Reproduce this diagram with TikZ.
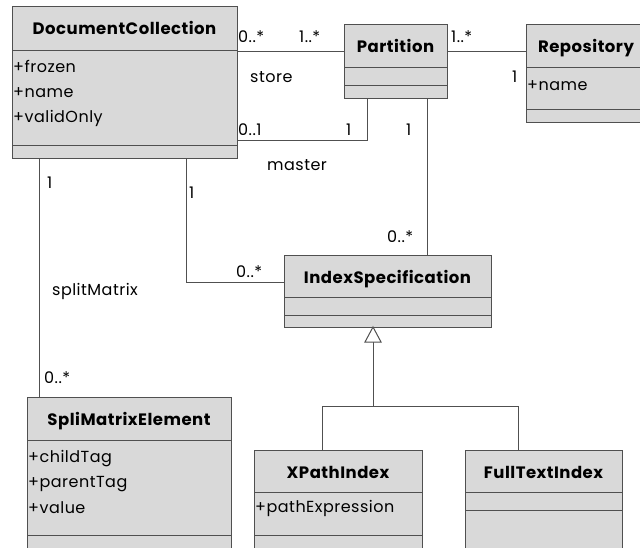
\documentclass[tikz,border=0pt]{standalone}
\usepackage{fontspec}
\setmainfont{Poppins}
\definecolor{boxfill}{HTML}{D9D9D9}
\definecolor{edge}{HTML}{505050}

% one class box: name, left, top, width, height, title
\newcommand{\classbox}[6]{%
  \node[box, minimum width=#4pt, minimum height=#5pt] (#1) at (#2,#3) {};
  \node[ctitle] (#1-title) at ([yshift=-28pt]#1.north) {#6};
}
% horizontal compartment line at a depth below the top of a box
\newcommand{\compline}[2]{%
  \draw[wire] ([yshift=-#2pt]#1.north west) -- ([yshift=-#2pt]#1.north east);
}

\begin{document}
\begin{tikzpicture}[x=1pt,y=-1pt,
  box/.style={draw=edge, fill=boxfill, line width=1pt, inner sep=0pt,
              outer sep=0pt, anchor=north west},
  wire/.style={draw=edge, line width=1pt},
  ctitle/.style={font=\fontsize{16.5}{18}\selectfont\bfseries\addfontfeature{LetterSpace=3},
                 inner sep=0pt, anchor=base},
  attr/.style={font=\fontsize{16}{18}\selectfont\addfontfeature{LetterSpace=3},
               inner sep=0pt, anchor=base west},
  mult/.style={font=\fontsize{16}{18}\selectfont\addfontfeature{LetterSpace=3},
               inner sep=0pt, anchor=base west},
]
\useasboundingbox (0,0) rectangle (640,547);
\clip (0,0) rectangle (640,547);

% ---------- classes ----------
\classbox{dc}{12}{6}{225}{152}{DocumentCollection}
\compline{dc}{44}\compline{dc}{139}
\node[attr] (dc-a1) at ([xshift=1pt,yshift=-66pt]dc.north west) {+frozen};
\node[attr] (dc-a2) at ([xshift=1pt,yshift=-91pt]dc.north west) {+name};
\node[attr] (dc-a3) at ([xshift=1pt,yshift=-116pt]dc.north west) {+validOnly};

\classbox{part}{344}{24}{103}{74}{Partition}
\compline{part}{43}\compline{part}{61}

\classbox{repo}{526}{24}{120}{98}{Repository}
\compline{repo}{43}\compline{repo}{85}
\node[attr] (repo-a1) at ([xshift=1pt,yshift=-66pt]repo.north west) {+name};

\classbox{is}{284}{255}{207}{72}{IndexSpecification}
\compline{is}{42}\compline{is}{60}

\classbox{sme}{27}{397}{204}{170}{SpliMatrixElement}
\compline{sme}{43}\compline{sme}{138}
\node[attr] (sme-a1) at ([xshift=1pt,yshift=-65pt]sme.north west) {+childTag};
\node[attr] (sme-a2) at ([xshift=1pt,yshift=-90pt]sme.north west) {+parentTag};
\node[attr] (sme-a3) at ([xshift=1pt,yshift=-116pt]sme.north west) {+value};

\classbox{xp}{254}{450}{168}{120}{XPathIndex}
\compline{xp}{42}\compline{xp}{85}
\node[attr] (xp-a1) at ([xshift=1pt,yshift=-62pt]xp.north west) {+pathExpression};

\classbox{ft}{465}{450}{157}{120}{FullTextIndex}
\compline{ft}{42}\compline{ft}{60}

% ---------- associations ----------
% store
\coordinate (storeA) at ([yshift=-45pt]dc.north east);
\draw[wire] (storeA) -- (storeA -| part.west);
\node[mult] (m-store1) at (238,42) {0..*};
\node[mult] (m-store2) at (299,42) {1..*};
\node[mult] (l-store) at (250,82) {store};

% master
\coordinate (masterA) at ([yshift=-134pt]dc.north east);
\coordinate (masterB) at ([xshift=23pt]part.south west);
\draw[wire] (masterA) -| (masterB);
\node[mult] (m-master1) at (238,135) {0..1};
\node[mult] (m-master2) at (346,135) {1};
\node[mult] (l-master) at (267,170) {master};

% partition -- repository
\coordinate (repA) at ([yshift=-27pt]part.north east);
\draw[wire] (repA) -- (repA -| repo.west);
\node[mult] (m-rep1) at (451,42) {1..*};
\node[mult] (m-rep2) at (512,82) {1};

% partition -- index specification
\coordinate (pisA) at ([xshift=83pt]part.south west);
\draw[wire] (pisA) -- (pisA |- is.north);
\node[mult] (m-pis1) at (406,135) {1};
\node[mult] (m-pis2) at (387,242) {0..*};

% document collection -- index specification
\coordinate (disA) at ([xshift=174pt]dc.south west);
\coordinate (disB) at ([yshift=-27pt]is.north west);
\draw[wire] (disA) |- (disB);
\node[mult] (m-dis1) at (189,198) {1};
\node[mult] (m-dis2) at (236,277) {0..*};

% splitMatrix
\coordinate (smA) at ([xshift=27pt]dc.south west);
\draw[wire] (smA) -- (smA |- sme.north);
\node[mult] (m-sm1) at (47,188) {1};
\node[mult] (l-sm) at (52,295) {splitMatrix};
\node[mult] (m-sm2) at (44,383) {0..*};

% ---------- generalization ----------
\coordinate (gTip) at ([xshift=89pt]is.south west);
\coordinate (gBase) at ([yshift=-15pt]gTip);
\coordinate (xpTop) at ([xshift=68pt]xp.north west);
\coordinate (ftTop) at ([xshift=53pt]ft.north west);
\coordinate (bus) at (0,406);
\draw[wire] (xpTop) -- (xpTop |- bus) -- (ftTop |- bus) -- (ftTop);
\draw[wire] (gBase) -- (gBase |- bus);
\draw[wire, fill=white] (gTip) -- ([xshift=-8pt]gBase) -- ([xshift=8pt]gBase) -- cycle;
\end{tikzpicture}
\end{document}
